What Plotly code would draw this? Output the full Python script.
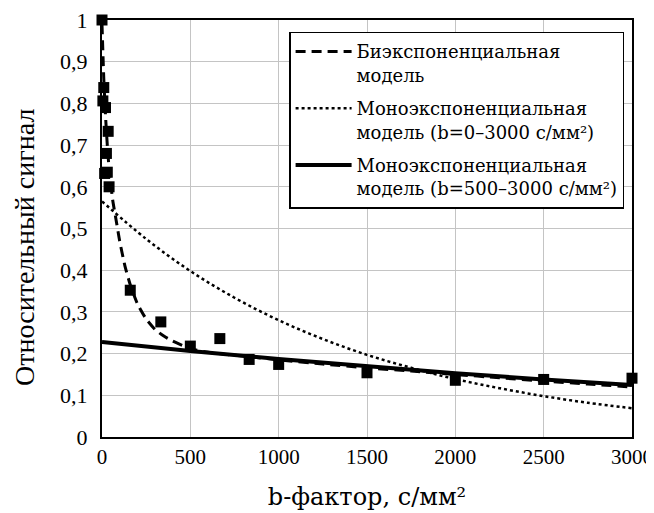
import plotly.graph_objects as go

# Measured data
b_meas = [0, 5, 10, 15, 20, 25, 30, 35, 40, 160, 333, 500, 667, 833, 1000, 1500, 2000, 2500, 3000]
s_meas = [1.0, 0.806, 0.838, 0.632, 0.79, 0.68, 0.635, 0.733, 0.60, 0.352, 0.276, 0.218, 0.236,
          0.186, 0.174, 0.154, 0.136, 0.138, 0.141]

# Biexponential model curve
b_bi = [0, 10, 20, 30, 40, 60, 80, 100, 130, 160, 200, 250, 300, 350, 400, 500, 600, 800, 1000,
        1250, 1500, 1750, 2000, 2250, 2500, 2750, 3000]
s_bi = [0.99, 0.86, 0.77, 0.70, 0.645, 0.57, 0.52, 0.47, 0.41, 0.365, 0.32, 0.283, 0.258, 0.242,
        0.230, 0.212, 0.203, 0.194, 0.185, 0.175, 0.166, 0.158, 0.150, 0.142, 0.134, 0.127, 0.120]

# Monoexponential model b=0-3000
b_mono_all = [0, 250, 500, 750, 1000, 1250, 1500, 1750, 2000, 2250, 2500, 2750, 3000]
s_mono_all = [0.565, 0.475, 0.398, 0.334, 0.280, 0.235, 0.197, 0.166, 0.139, 0.117, 0.098, 0.082, 0.069]

# Monoexponential model b=500-3000
b_mono_hi = [0, 500, 1000, 1500, 2000, 2500, 3000]
s_mono_hi = [0.228, 0.206, 0.187, 0.169, 0.153, 0.138, 0.125]

x_ticks = [0, 500, 1000, 1500, 2000, 2500, 3000]
x_ticktext = ["0", "500", "1000", "1500", "2000", "2500", "3000"]
y_ticks = [0, 0.1, 0.2, 0.3, 0.4, 0.5, 0.6, 0.7, 0.8, 0.9, 1.0]
y_ticktext = ["0", "0,1", "0,2", "0,3", "0,4", "0,5", "0,6", "0,7", "0,8", "0,9", "1"]

names = ["Биэкспоненциальная<br>модель",
         "Моноэкспоненциальная<br>модель (b=0–3000 с/мм²)",
         "Моноэкспоненциальная<br>модель (b=500–3000 с/мм²)"]
x_title = "b-фактор, с/мм²"
y_title = "Относительный сигнал"

SERIF = "Liberation Serif, Times New Roman, serif"
WIDE_SERIF = "DejaVu Serif, Bitstream Vera Serif, serif"

fig = go.Figure()
fig.add_trace(go.Scatter(x=b_bi, y=s_bi, mode="lines", name=names[0], legendgroup="a",
                         line=dict(color="black", width=3, dash="10px,6px", shape="spline", smoothing=0.6)))
fig.add_trace(go.Scatter(x=b_mono_all, y=s_mono_all, mode="lines", name=names[1], legendgroup="b",
                         line=dict(color="black", width=2.5, dash="dot", shape="spline")))
fig.add_trace(go.Scatter(x=b_mono_hi, y=s_mono_hi, mode="lines", name=names[2], legendgroup="c",
                         line=dict(color="black", width=4)))
fig.add_trace(go.Scatter(x=b_meas, y=s_meas, mode="markers", showlegend=False, cliponaxis=False,
                         marker=dict(symbol="square", size=11, color="black")))

# page body adds an 8px margin: compensate so the plot area lands where the reference has it
fig.update_layout(
    width=646, height=505,
    margin=dict(l=94, r=22, t=12, b=76),
    paper_bgcolor="white", plot_bgcolor="white",
    font=dict(family=SERIF, color="black"),
    showlegend=True,
    legend=dict(x=0.353, y=0.972, xanchor="left", yanchor="top",
                bgcolor="white", bordercolor="black", borderwidth=1.5,
                font=dict(family=WIDE_SERIF, size=18, color="black"),
                valign="top", itemwidth=56, tracegroupgap=7),
    annotations=[dict(text=y_title, textangle=-90, xref="paper", yref="paper",
                      x=-0.146, y=0.455, xanchor="center", yanchor="middle", showarrow=False,
                      font=dict(family=SERIF, size=28, color="black"))],
)
fig.update_xaxes(range=[0, 3000], tickvals=x_ticks, ticktext=x_ticktext,
                 showgrid=True, gridcolor="#c4c4c4", gridwidth=1,
                 showline=True, linecolor="black", linewidth=2, mirror=True,
                 zeroline=False, ticks="", automargin=False, ticklabeloverflow="allow",
                 tickfont=dict(family=SERIF, size=21, color="black"),
                 title=dict(text=x_title, standoff=20,
                            font=dict(family=WIDE_SERIF, size=24, color="black")))
fig.update_yaxes(range=[0, 1.0], tickvals=y_ticks, ticktext=y_ticktext,
                 showgrid=True, gridcolor="#c4c4c4", gridwidth=1,
                 showline=True, linecolor="black", linewidth=2, mirror=True,
                 zeroline=False, ticks="", ticklabelstandoff=8, automargin=False,
                 ticklabeloverflow="allow",
                 tickfont=dict(family=SERIF, size=22, color="black"))

fig.write_html("out.html")
